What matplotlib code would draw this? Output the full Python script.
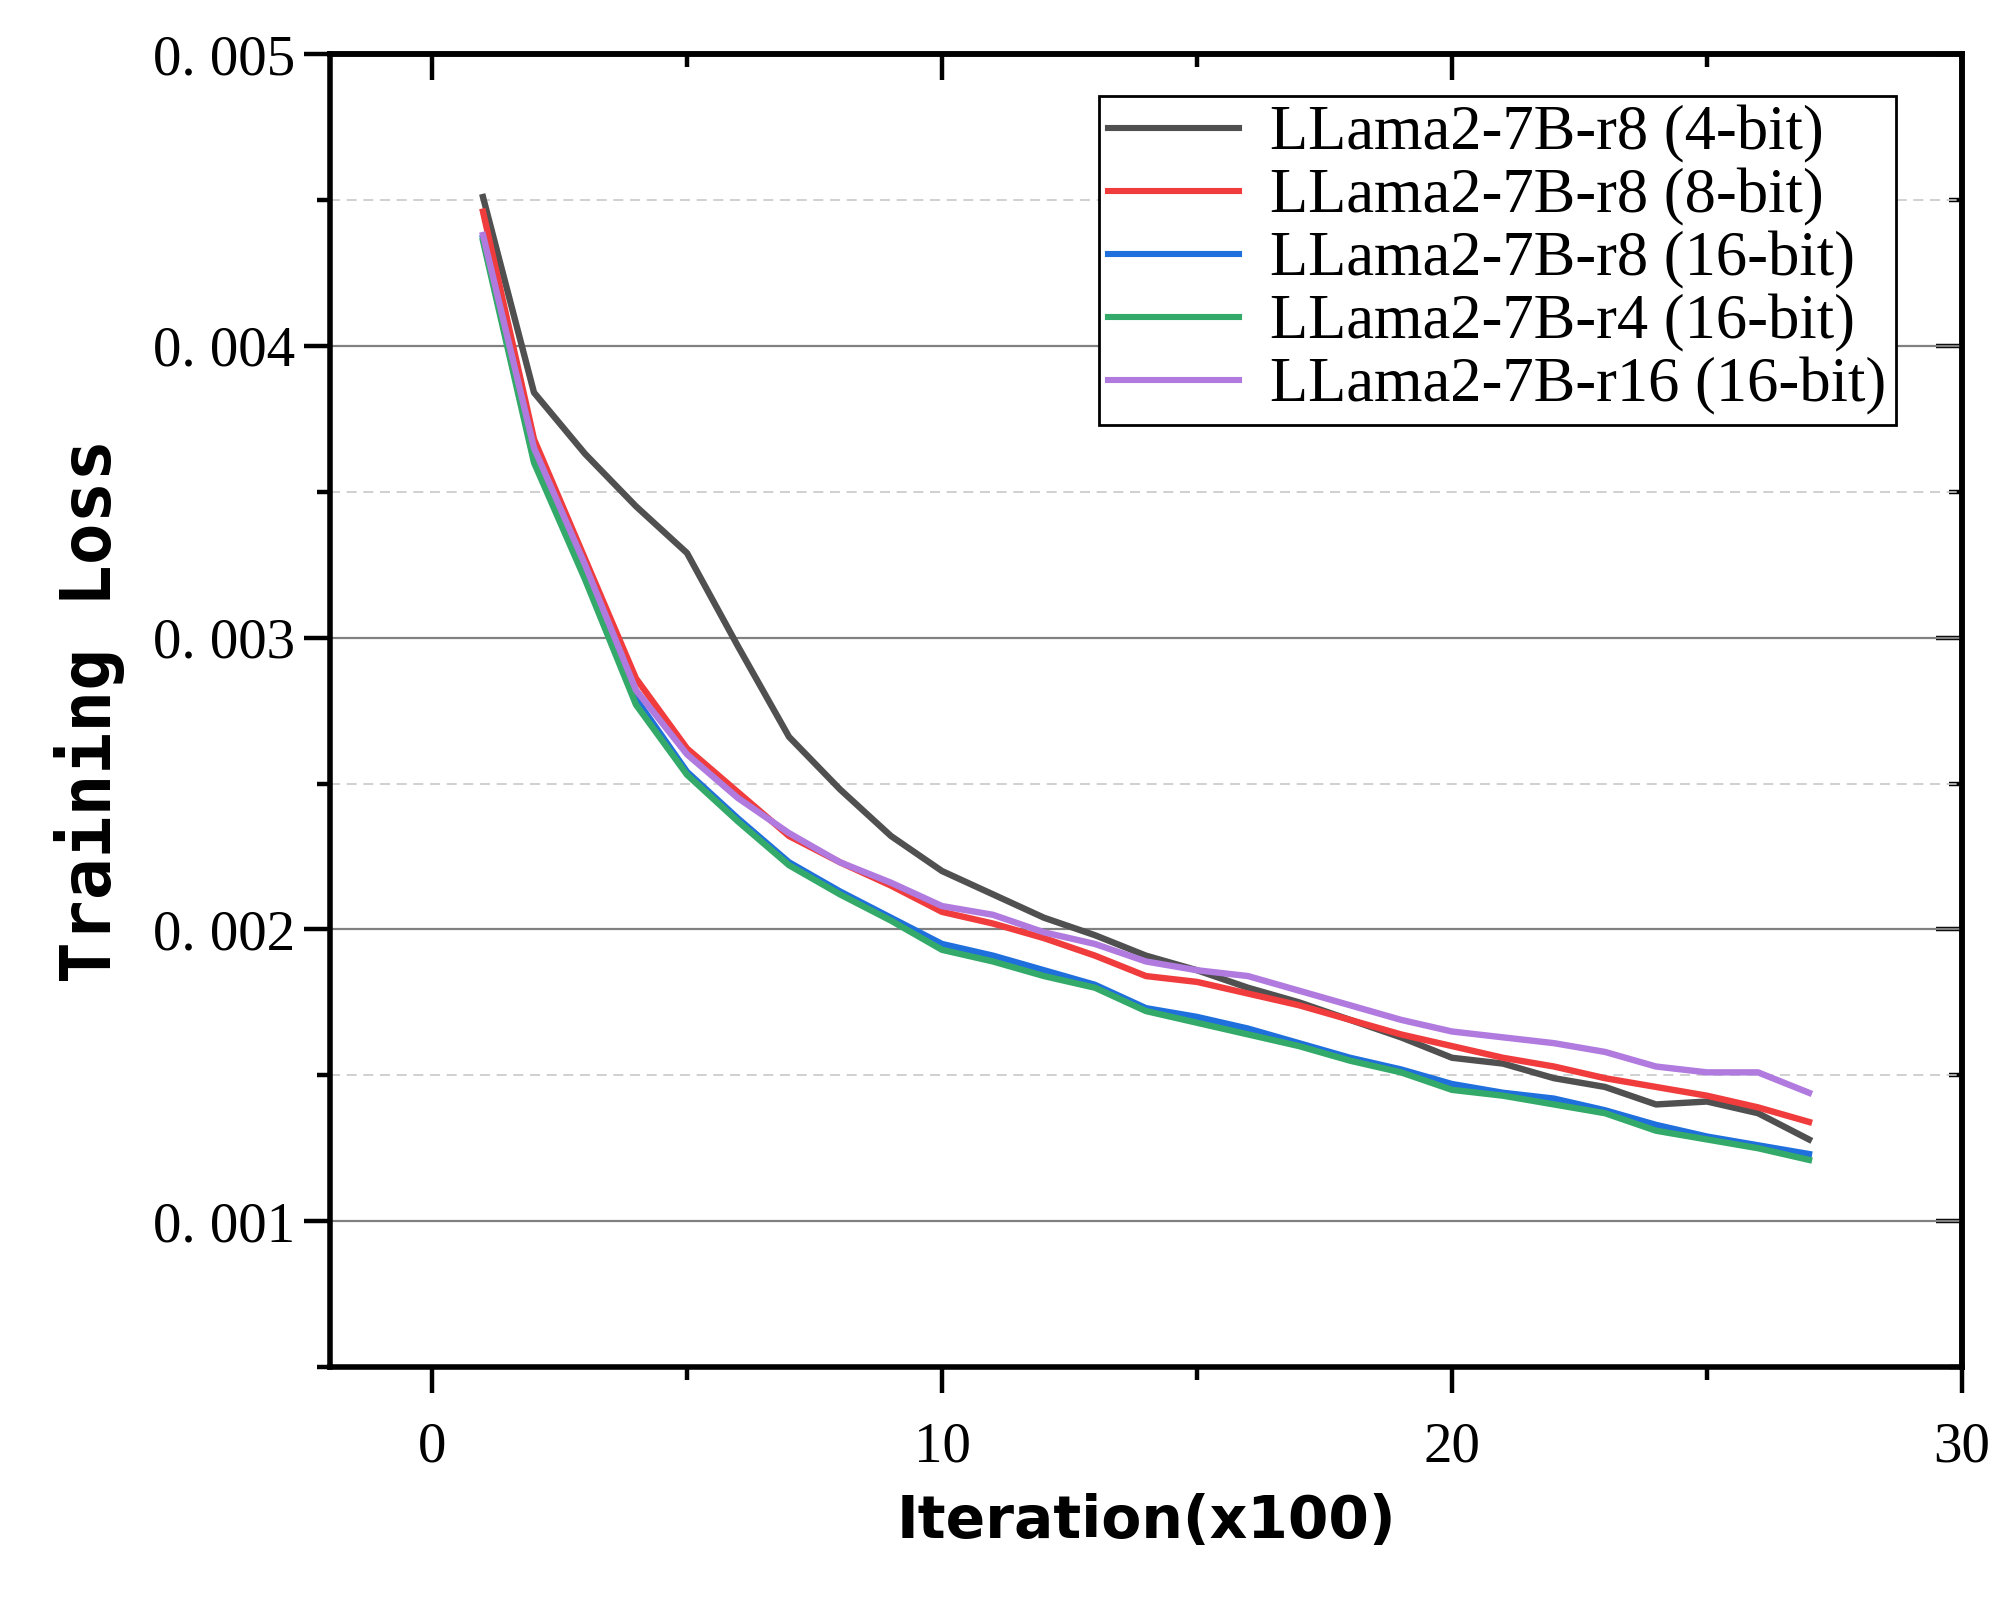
import numpy as np
import matplotlib
matplotlib.use("Agg")
import matplotlib.pyplot as plt
from matplotlib import font_manager
from matplotlib.ticker import MultipleLocator, FuncFormatter

# iteration (x100)
iters = list(range(1, 28))

loss_r8_4bit = [0.00451, 0.00384, 0.00363, 0.00345, 0.00329, 0.00297, 0.00266, 0.00248, 0.00232,
                0.00220, 0.00212, 0.00204, 0.00198, 0.00191, 0.00186, 0.00180, 0.00175, 0.00169,
                0.00163, 0.00156, 0.00154, 0.00149, 0.00146, 0.00140, 0.00141, 0.00137, 0.00128]
loss_r8_8bit = [0.00446, 0.00368, 0.00327, 0.00286, 0.00262, 0.00247, 0.00232, 0.00223, 0.00215,
                0.00206, 0.00202, 0.00197, 0.00191, 0.00184, 0.00182, 0.00178, 0.00174, 0.00169,
                0.00164, 0.00160, 0.00156, 0.00153, 0.00149, 0.00146, 0.00143, 0.00139, 0.00134]
loss_r8_16bit = [0.00437, 0.00361, 0.00322, 0.00279, 0.00254, 0.00238, 0.00223, 0.00213, 0.00204,
                 0.00195, 0.00191, 0.00186, 0.00181, 0.00173, 0.00170, 0.00166, 0.00161, 0.00156,
                 0.00152, 0.00147, 0.00144, 0.00142, 0.00138, 0.00133, 0.00129, 0.00126, 0.00123]
loss_r4_16bit = [0.00436, 0.00360, 0.00320, 0.00277, 0.00253, 0.00237, 0.00222, 0.00212, 0.00203,
                 0.00193, 0.00189, 0.00184, 0.00180, 0.00172, 0.00168, 0.00164, 0.00160, 0.00155,
                 0.00151, 0.00145, 0.00143, 0.00140, 0.00137, 0.00131, 0.00128, 0.00125, 0.00121]
loss_r16_16bit = [0.00438, 0.00365, 0.00325, 0.00282, 0.00260, 0.00245, 0.00233, 0.00223, 0.00216,
                  0.00208, 0.00205, 0.00199, 0.00195, 0.00189, 0.00186, 0.00184, 0.00179, 0.00174,
                  0.00169, 0.00165, 0.00163, 0.00161, 0.00158, 0.00153, 0.00151, 0.00151, 0.00144]

labels = ['LLama2-7B-r8 (4-bit)', 'LLama2-7B-r8 (8-bit)', 'LLama2-7B-r8 (16-bit)',
          'LLama2-7B-r4 (16-bit)', 'LLama2-7B-r16 (16-bit)']
colors = ['#505050', '#f03c3c', '#1f6fdc', '#34aa6a', '#b07ade']
series = [loss_r8_4bit, loss_r8_8bit, loss_r8_16bit, loss_r4_16bit, loss_r16_16bit]

serif = 'Liberation Serif'
names = {f.name for f in font_manager.fontManager.ttflist}
if 'Liberation Sans Narrow' in names:
    xlab_font, xlab_size = 'Liberation Sans Narrow', 25
else:
    xlab_font, xlab_size = 'DejaVu Sans', 21

fig = plt.figure(figsize=(10, 8), dpi=200)
ax = fig.add_axes([0.165, 0.1456, 0.816, 0.8206])

for s, c, lab in zip(series, colors, labels):
    ax.plot(iters, s, color=c, lw=2.3, label=lab)

ax.set_xlim(-2, 30)
ax.set_ylim(0.0005, 0.005)

ax.xaxis.set_major_locator(MultipleLocator(10))
ax.xaxis.set_minor_locator(MultipleLocator(5))
ax.yaxis.set_major_locator(MultipleLocator(0.001))
ax.yaxis.set_minor_locator(MultipleLocator(0.0005))
ax.yaxis.set_major_formatter(FuncFormatter(lambda v, p: f"{v:.3f}".replace('.', '. ')))

ax.grid(True, which='major', axis='y', color='#808080', lw=0.8)
ax.grid(True, which='minor', axis='y', color='#c8c8c8', lw=0.6, ls=(0, (6, 4)))
ax.set_axisbelow(True)

for sp in ax.spines.values():
    sp.set_linewidth(2.0)

ax.tick_params(which='major', direction='out', length=9.5, width=1.6, labelsize=20.5, pad=10)
ax.tick_params(which='minor', direction='out', length=4.8, width=1.6)
for t in ax.get_xticklabels() + ax.get_yticklabels():
    t.set_fontfamily(serif)
ax.tick_params(axis='y', pad=3)

# inward ticks on the top and right sides
top = ax.secondary_xaxis('top')
top.xaxis.set_major_locator(MultipleLocator(10))
top.xaxis.set_minor_locator(MultipleLocator(5))
top.tick_params(which='major', direction='in', length=9.5, width=1.6, labeltop=False)
top.tick_params(which='minor', direction='in', length=4.8, width=1.6)
top.spines['top'].set_linewidth(2.0)
right = ax.secondary_yaxis('right')
right.yaxis.set_major_locator(MultipleLocator(0.001))
right.yaxis.set_minor_locator(MultipleLocator(0.0005))
right.tick_params(which='major', direction='in', length=9.5, width=1.6, labelright=False)
right.tick_params(which='minor', direction='in', length=4.8, width=1.6)
right.spines['right'].set_linewidth(2.0)

ax.set_xlabel('Iteration(x100)', fontsize=xlab_size, fontweight='bold', family=xlab_font, labelpad=7)
ax.set_ylabel('Training Loss', fontsize=25, fontweight='bold', family='DejaVu Sans Mono', labelpad=10)

leg = ax.legend(loc='upper right', bbox_to_anchor=(0.9596, 0.968), borderaxespad=0,
                fancybox=False, edgecolor='black', framealpha=1,
                prop={'family': serif, 'size': 22.5}, handlelength=2.1,
                handletextpad=0.5, labelspacing=0.08, borderpad=0.15)
leg.get_frame().set_linewidth(1.0)
for h in leg.get_lines():
    h.set_linewidth(2.2)

fig.savefig('out.png', dpi=200)
